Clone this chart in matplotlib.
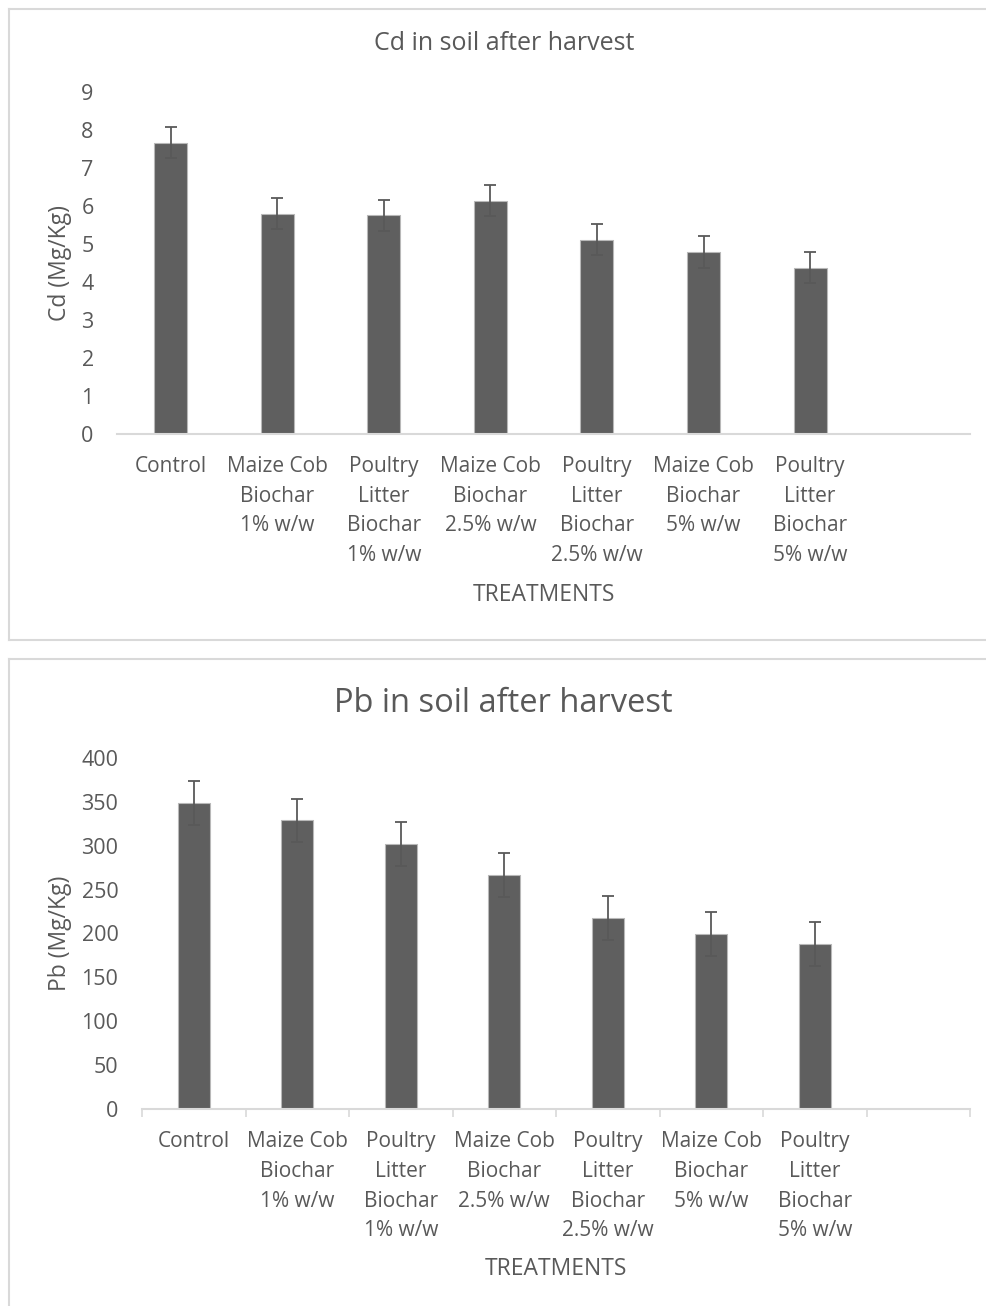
import matplotlib
matplotlib.use("Agg")
import matplotlib.pyplot as plt
from matplotlib.lines import Line2D
import numpy as np

plt.rcParams['font.family'] = ['Open Sans', 'DejaVu Sans']

# Treatment labels shared by both panels
treatments = [
    "Control",
    "Maize Cob\nBiochar\n1% w/w",
    "Poultry\nLitter\nBiochar\n1% w/w",
    "Maize Cob\nBiochar\n2.5% w/w",
    "Poultry\nLitter\nBiochar\n2.5% w/w",
    "Maize Cob\nBiochar\n5% w/w",
    "Poultry\nLitter\nBiochar\n5% w/w",
]

# Cd in soil after harvest (Mg/Kg)
cd_values = [7.66, 5.79, 5.75, 6.13, 5.10, 4.78, 4.37]
cd_errors = [0.41, 0.41, 0.41, 0.41, 0.41, 0.41, 0.41]
cd_ticks = [0, 1, 2, 3, 4, 5, 6, 7, 8, 9]

# Pb in soil after harvest (Mg/Kg)
pb_values = [349, 329, 302, 267, 218, 199, 188]
pb_errors = [25, 25, 25, 25, 25, 25, 25]
pb_ticks = [0, 50, 100, 150, 200, 250, 300, 350, 400]

W, H = 986, 1306
DPI = 100
TEXT = "#595959"
BAR = "#5f5f5f"
AXIS = "#d9d9d9"

fig = plt.figure(figsize=(W / DPI, H / DPI), dpi=DPI)


def px_axes(left, right, top, bottom):
    return fig.add_axes([left / W, 1 - bottom / H, (right - left) / W, (bottom - top) / H])


def draw_panel(ax, values, errors, ticks, ylabel, xticks_marks, label_pad, ytick_pad):
    n_slots = len(treatments) + 1
    x = np.arange(len(treatments))
    ax.bar(x, values, width=0.31, color=BAR, edgecolor="#b8b8b8", linewidth=0.8, zorder=2)
    ax.errorbar(x, values, yerr=errors, fmt="none", ecolor=TEXT, elinewidth=1.3,
                capsize=4.2, capthick=1.3, zorder=3)
    ax.set_xlim(-0.5, n_slots - 0.5)
    ax.set_ylim(ticks[0], ticks[-1])
    ax.set_yticks(ticks)
    ax.set_xticks(x)
    ax.set_xticklabels(treatments, fontsize=15, color=TEXT, linespacing=1.55)
    ax.tick_params(axis="y", length=0, pad=ytick_pad, labelsize=15.5, labelcolor=TEXT)
    ax.tick_params(axis="x", length=0, pad=label_pad)
    if xticks_marks:
        ax.set_xticks(np.arange(-0.5, n_slots, 1.0), minor=True)
        ax.tick_params(axis="x", which="minor", length=6, width=1.2, color=AXIS, direction="out")
    for s in ("top", "right", "left"):
        ax.spines[s].set_visible(False)
    ax.spines["bottom"].set_color(AXIS)
    ax.spines["bottom"].set_linewidth(1.5)
    ax.set_ylabel(ylabel, fontsize=16.5, color=TEXT)
    ax.set_xlabel("TREATMENTS", fontsize=16.5, color=TEXT)


# Top panel: Cd
ax1 = px_axes(117.3, 970, 91.7, 433.5)
draw_panel(ax1, cd_values, cd_errors, cd_ticks, "Cd (Mg/Kg)", False, 16, 17)
ax1.yaxis.set_label_coords((72 - 117.3) / (970 - 117.3), 0.5)
ax1.xaxis.set_label_coords(0.5, -(583 - 433.5) / (433.5 - 91.7))
fig.text(504 / W, 1 - 44 / H, "Cd in soil after harvest", ha="center", va="center",
         fontsize=18, color=TEXT)

# Bottom panel: Pb
ax2 = px_axes(142, 970, 758.3, 1108.7)
draw_panel(ax2, pb_values, pb_errors, pb_ticks, "Pb (Mg/Kg)", True, 16, 17)
ax2.yaxis.set_label_coords((72 - 142) / (970 - 142), 0.5)
ax2.xaxis.set_label_coords(0.5, -(1257 - 1108.7) / (1108.7 - 758.3))
fig.text(503 / W, 1 - 703 / H, "Pb in soil after harvest", ha="center", va="center",
         fontsize=23.5, color=TEXT)

# Chart area frames
frame_kw = dict(color=AXIS, linewidth=1.5, transform=fig.transFigure)
fig.add_artist(Line2D([9 / W, 1], [1 - 9 / H, 1 - 9 / H], **frame_kw))
fig.add_artist(Line2D([9 / W, 9 / W], [1 - 9 / H, 1 - 640 / H], **frame_kw))
fig.add_artist(Line2D([9 / W, 1], [1 - 640 / H, 1 - 640 / H], **frame_kw))
fig.add_artist(Line2D([9 / W, 1], [1 - 659 / H, 1 - 659 / H], **frame_kw))
fig.add_artist(Line2D([9 / W, 9 / W], [1 - 659 / H, 0], **frame_kw))

fig.savefig("out.png", dpi=DPI, facecolor="white")
